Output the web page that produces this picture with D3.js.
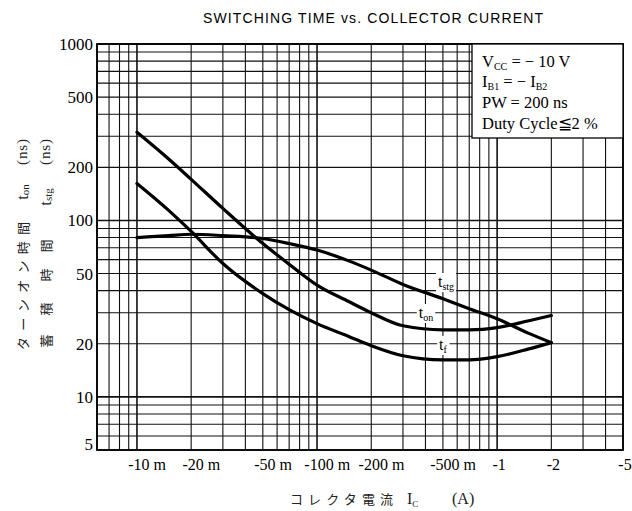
<!DOCTYPE html>
<html><head><meta charset="utf-8">
<script src="https://cdn.jsdelivr.net/npm/d3@7"></script>
<style>body{margin:0;background:#fff}svg{display:block}</style>
</head><body>
<svg id="c" width="632" height="511"></svg>
<script>
// ---- data (collector current in A, times in ns) ----
const currents = [0.01,0.015,0.02,0.03,0.05,0.07,0.1,0.15,0.2,0.3,0.5,0.7,1,1.5,2];
const tOn  = [316,223,171,117,74,56.5,43,34.7,30,25.3,24.0,24.0,24.7,27.0,28.9];
const tStg = [80,82,83.5,82,79,74,68,59,52.3,43.4,36.0,31.6,27.7,22.9,20.3];
const tF   = [162,114,86.6,57,38.5,31.2,26.0,22.0,19.5,17.1,16.2,16.2,16.9,18.7,20.3];
const xTickValues = [0.01,0.02,0.05,0.1,0.2,0.5,1,2,5];
const xTickLabels = ["-10 m","-20 m","-50 m","-100 m","-200 m","-500 m","-1","-2","-5"];
const yTickValues = [1000,500,200,100,50,20,10,5];
const yTickLabels = ["1000","500","200","100","50","20","10","5"];
const titleText = "SWITCHING TIME vs. COLLECTOR CURRENT";

const svg = d3.select("#c");
const L = 97, R = 623, T = 44, B = 450;
const x = d3.scaleLog().domain([0.006, 5]).range([L, R]);
const y = d3.scaleLog().domain([5, 1000]).range([B, T]);
const serif = "'Liberation Serif','DejaVu Serif',serif";
const sans = "'Liberation Sans',Arial,sans-serif";
const jp = "'Noto Sans CJK JP','Noto Sans',sans-serif";

// title
svg.append("text").attr("x", 203).attr("y", 23)
  .attr("font-family", sans).attr("font-size", 14)
  .attr("textLength", 340).attr("lengthAdjust", "spacing")
  .text(titleText);

// grid
const isDecade = v => Math.abs(Math.log10(v) - Math.round(Math.log10(v))) < 1e-6;
const g = svg.append("g");
g.selectAll("line.gx").data(x.ticks()).join("line")
  .attr("x1", d => x(d)).attr("x2", d => x(d)).attr("y1", T).attr("y2", B)
  .attr("stroke", "#111").attr("stroke-width", d => isDecade(d) ? 1.6 : 1.1);
g.selectAll("line.gy").data(y.ticks()).join("line")
  .attr("y1", d => y(d)).attr("y2", d => y(d)).attr("x1", L).attr("x2", R)
  .attr("stroke", "#111").attr("stroke-width", d => isDecade(d) ? 1.6 : 1.1);
svg.append("rect").attr("x", L).attr("y", T).attr("width", R - L).attr("height", B - T)
  .attr("fill", "none").attr("stroke", "#000").attr("stroke-width", 1.8);

// y tick labels
svg.selectAll("text.yt").data(yTickValues).join("text")
  .attr("x", 93).attr("y", d => Math.min(y(d), 444) + 6)
  .attr("text-anchor", "end").attr("font-family", serif).attr("font-size", 17)
  .text((d, i) => yTickLabels[i]);

// x tick labels (numeric part centred on the grid line)
xTickValues.forEach((v, i) => {
  const lab = xTickLabels[i];
  const t = svg.append("text").attr("y", 470).attr("font-family", serif)
    .attr("font-size", 16).attr("text-anchor", "start").text(lab);
  const num = lab.split(" ")[0];
  const w = t.node().getSubStringLength(0, num.length);
  t.attr("x", x(v) - w / 2 + 2);
});

// curves
const line = d3.line().x(d => x(d[0])).y(d => y(d[1])).curve(d3.curveMonotoneX);
[tOn, tStg, tF].forEach(s => {
  svg.append("path").datum(currents.map((c, i) => [c, s[i]]))
    .attr("d", line).attr("fill", "none").attr("stroke", "#000")
    .attr("stroke-width", 3.2).attr("stroke-linejoin", "round").attr("stroke-linecap", "round");
});

// curve labels
function curveLabel(cx, by, main, sub) {
  const t = svg.append("text").attr("x", cx).attr("y", by)
    .attr("font-family", serif).attr("font-size", 16).attr("text-anchor", "middle");
  t.append("tspan").text(main);
  t.append("tspan").attr("font-size", 10).attr("dy", 3).text(sub);
  const bb = t.node().getBBox();
  svg.insert("rect", () => t.node()).attr("x", bb.x - 2).attr("y", bb.y)
    .attr("width", bb.width + 4).attr("height", bb.height).attr("fill", "#fff");
}
curveLabel(446, 287, "t", "stg");
curveLabel(426, 318, "t", "on");
curveLabel(443, 350, "t", "f");

// conditions box
svg.append("rect").attr("x", 472).attr("y", T).attr("width", R - 472).attr("height", 94)
  .attr("fill", "#fff").attr("stroke", "#000").attr("stroke-width", 1.3);
function condLine(yy, parts) {
  const t = svg.append("text").attr("x", 482).attr("y", yy)
    .attr("font-family", serif).attr("font-size", 16.5);
  let shifted = false;
  parts.forEach(p => {
    if (typeof p === "string") {
      t.append("tspan").attr("dy", shifted ? -3 : 0).text(p);
      shifted = false;
    } else {
      t.append("tspan").attr("font-size", 10).attr("dy", 3).text(p.s);
      shifted = true;
    }
  });
}
condLine(67, ["V", {s: "CC"}, " =  − 10  V"]);
condLine(87, ["I", {s: "B1"}, " = − I", {s: "B2"}]);
condLine(108, ["PW = 200  ns"]);
condLine(129, ["Duty  Cycle≦2 %"]);

// y axis title (two rotated columns)
function vText(cx, cy, str, opts = {}) {
  const t = svg.append("text")
    .attr("transform", `translate(${cx},${cy}) rotate(-90)`)
    .attr("text-anchor", "middle").attr("dominant-baseline", "central")
    .attr("font-family", opts.font || jp).attr("font-size", opts.size || 13)
    .attr("fill", "#222");
  if (opts.len) t.attr("textLength", opts.len).attr("lengthAdjust", "spacing");
  if (opts.sub) {
    t.append("tspan").text(str);
    t.append("tspan").attr("font-size", 11).attr("dy", 3).text(opts.sub);
  } else t.text(str);
  return t;
}
vText(22, 286, "ターンオン時間", {len: 128});
vText(22, 192, "t", {font: serif, size: 17, sub: "on"});
vText(22, 152, "(ns)", {font: serif, size: 15, len: 26});
["蓄", "積", "時", "間"].forEach((ch, i) => vText(45, [341, 309, 275, 246][i], ch));
vText(45, 197, "t", {font: serif, size: 17, sub: "stg"});
vText(45, 152, "(ns)", {font: serif, size: 15, len: 26});

// x axis title
const xt = svg.append("text").attr("x", 290).attr("y", 504).attr("fill", "#222");
xt.append("tspan").attr("font-family", jp).attr("font-size", 13)
  .attr("textLength", 103).attr("lengthAdjust", "spacing").text("コレクタ電流");
xt.append("tspan").attr("x", 407).attr("font-family", serif).attr("font-size", 16).text("I");
xt.append("tspan").attr("font-family", serif).attr("font-size", 9).attr("dy", 3).text("C");
xt.append("tspan").attr("x", 452).attr("dy", -3).attr("font-family", serif).attr("font-size", 16).text("(A)");
</script>
</body></html>
